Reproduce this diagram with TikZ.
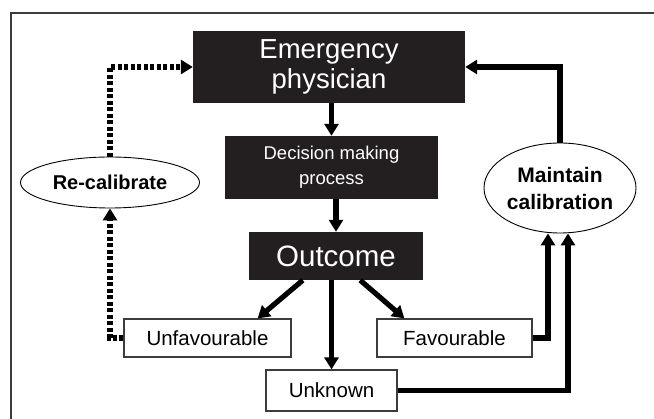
\documentclass[tikz,border=0pt]{standalone}
\usepackage{fontspec}
\setmainfont{Liberation Sans}
\usepackage{tikz}
\usetikzlibrary{arrows.meta}
\usetikzlibrary{shapes.geometric}
\definecolor{boxblack}{RGB}{35,31,32}
\definecolor{edgegray}{RGB}{60,60,60}

\begin{document}
\begin{tikzpicture}[x=1pt, y=-1pt,
    darkbox/.style={rectangle, fill=boxblack, text=white, inner sep=0pt, align=center},
    whitebox/.style={rectangle, draw=edgegray, line width=1.2pt, fill=white, inner sep=0pt, minimum height=38pt, font=\fontsize{20.5}{24}\selectfont},
    oval/.style={ellipse, draw=black, line width=0.9pt, inner sep=0pt, align=center, font=\bfseries\fontsize{21}{27}\selectfont},
    flow/.style={line width=5.2pt, -{Triangle[length=12pt, width=14pt]}},
    recal/.style={flow, dash pattern=on 4pt off 2.5pt}]
        \useasboundingbox (0,0) rectangle (654,419);
        \clip (0,0) rectangle (654,419);
        \draw[edgegray, line width=1.3pt] (11,13) rectangle (700,460);
        \node[darkbox, minimum width=272pt, minimum height=72pt, font=\fontsize{27.5}{30}\selectfont] (ep) at (329,67) {Emergency\\physician};
        \node[darkbox, minimum width=213pt, minimum height=63pt, font=\fontsize{18.5}{25}\selectfont] (dm) at (331.5,167.5) {Decision making\\process};
        \node[darkbox, minimum width=174pt, minimum height=48pt, font=\fontsize{29.5}{32}\selectfont] (oc) at (336,256) {Outcome};
        \node[whitebox, minimum width=167pt] (unf) at (207.5,338) {Unfavourable};
        \node[whitebox, minimum width=155pt] (fav) at (454.5,338) {Favourable};
        \node[whitebox, minimum width=131pt, minimum height=41pt] (unk) at (331.5,390.5) {Unknown};
        \node[oval, minimum width=179pt, minimum height=51pt, font=\bfseries\fontsize{20}{24}\selectfont] (rc) at (110,182.5) {Re-calibrate};
        \node[oval, minimum width=152pt, minimum height=90pt] (mc) at (560,188) {Maintain\\calibration};
        \draw[flow] (ep.south -| dm.north) -- (dm.north);
        \draw[flow] (dm.south -| oc.north) -- (oc.north);
        \draw[flow] (oc.south -| unk.north) -- (unk.north);
        \draw[flow] ([xshift=54pt]oc.south west) -- ([xshift=-34pt]unf.north east);
        \draw[flow] ([xshift=-63pt]oc.south east) -- ([xshift=28pt]fav.north west);
        \draw[recal] (unf.west) -| (rc.south);
        \draw[recal] (rc.north) |- (ep.west);
        \draw[flow] (mc.north) |- (ep.east);
        \draw[flow] (fav.east) -| ([xshift=-12pt]mc.south);
        \draw[flow] (unk.east) -| ([xshift=8pt]mc.south);
    \end{tikzpicture}
\end{document}
